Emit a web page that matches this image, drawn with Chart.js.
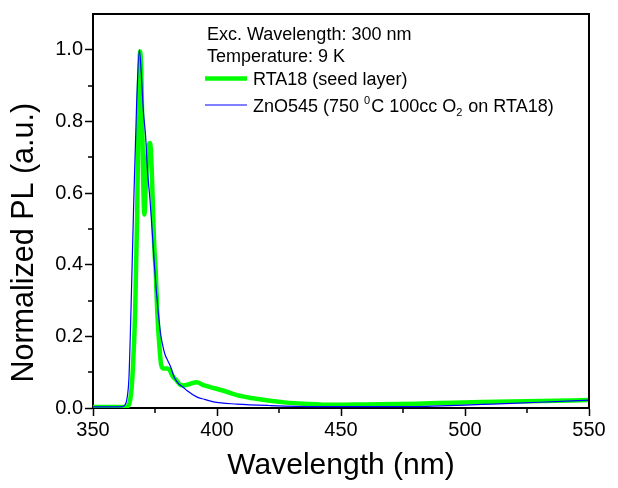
<!DOCTYPE html>
<html>
<head>
<meta charset="utf-8">
<script src="https://cdn.jsdelivr.net/npm/chart.js@4.4.1/dist/chart.umd.min.js"></script>
<style>
  html, body { margin: 0; padding: 0; background: #fff; }
  #wrap { width: 618px; height: 488px; }
</style>
</head>
<body>
<div id="wrap"><canvas id="plChart"></canvas></div>
<script>
/* ---------- data ---------- */
const noteLines = ['Exc. Wavelength: 300 nm', 'Temperature: 9 K'];

// RTA18 (seed layer)
const wlRta = [350, 363, 364.5, 365.5, 366, 367, 367.8, 368.3, 369, 369.6, 370.2, 370.7,
  371.3, 372, 373, 373.6, 374.2, 374.7, 375.3, 375.9, 376.7, 377.5, 378.5, 380, 381, 382,
  383.7, 385, 386.4, 389, 391.8, 394.5, 398, 401.2, 404.5, 408, 414.6, 421.4, 428, 435,
  447, 460, 481, 495, 507, 525, 550];
const plRta = [0.003, 0.003, 0.01, 0.05, 0.1, 0.27, 0.54, 0.8, 0.995, 0.9, 0.65, 0.54,
  0.62, 0.71, 0.74, 0.68, 0.55, 0.45, 0.38, 0.27, 0.18, 0.12, 0.11, 0.11, 0.105, 0.09,
  0.077, 0.066, 0.063, 0.067, 0.072, 0.064, 0.057, 0.051, 0.044, 0.036, 0.027, 0.02, 0.015, 0.012,
  0.009, 0.01, 0.012, 0.015, 0.017, 0.019, 0.022];

// ZnO545 (750 0C 100cc O2 on RTA18)
const wlZno = [350, 362, 363, 363.6, 364.5, 365.3, 366.3, 367.6, 368.7, 369.5, 370.3, 371.2,
  372, 373, 374, 374.7, 375.5, 376.3, 377.2, 378, 379, 380.3, 381.3, 382.8, 384.5, 386.4,
  388, 391.8, 395, 398.5, 408, 421, 440, 480, 490, 500, 511, 530, 550];
const plZno = [0.003, 0.004, 0.01, 0.022, 0.085, 0.27, 0.54, 0.85, 1.0, 0.93, 0.83, 0.76,
  0.66, 0.58, 0.48, 0.405, 0.33, 0.268, 0.21, 0.178, 0.15, 0.13, 0.115, 0.085, 0.068, 0.058,
  0.048, 0.031, 0.024, 0.017, 0.011, 0.007, 0.004, 0.004, 0.006, 0.008, 0.011, 0.016, 0.022];

// legend text pieces: 0 = normal, 1 = superscript, -1 = subscript
const legendRta = [['RTA18 (seed layer)', 0]];
const legendZno = [['ZnO545 (750 ', 0], ['0', 1], ['C 100cc O', 0], ['2', -1], [' on RTA18)', 0]];

const xMinorTicks = [375, 425, 475, 525];
const yMinorTicks = [0.1, 0.3, 0.5, 0.7, 0.9];

/* ---------- helpers ---------- */
const toPoints = (xs, ys) => xs.map((x, i) => ({ x: x, y: ys[i] }));
const isMajorY = v => Math.round(v * 10) % 2 === 0 && v < 1.05;
const isMajorX = v => Math.round(v) % 50 === 0;

Chart.defaults.font.family = "'Liberation Sans', Arial, sans-serif";
Chart.defaults.color = '#000';

/* ---------- frame, minor ticks and the in-plot legend ---------- */
const framePlugin = {
    id: 'framePlugin',
    afterDraw(chart) {
        const { ctx, chartArea: a, scales } = chart;
        ctx.save();
        ctx.strokeStyle = '#000';
        ctx.lineWidth = 2;
        ctx.beginPath();
        ctx.moveTo(a.left, a.top);
        ctx.lineTo(a.right, a.top);
        ctx.lineTo(a.right, a.bottom);
        ctx.stroke();

        ctx.lineWidth = 1.5;
        ctx.beginPath();
        xMinorTicks.forEach(v => {
            const px = Math.round(scales.x.getPixelForValue(v));
            ctx.moveTo(px, a.bottom);
            ctx.lineTo(px, a.bottom + 5);
        });
        yMinorTicks.forEach(v => {
            const py = Math.round(scales.y.getPixelForValue(v));
            ctx.moveTo(a.left - 5, py);
            ctx.lineTo(a.left, py);
        });
        ctx.stroke();

        // notes
        const x0 = a.left + 114;
        ctx.fillStyle = '#000';
        ctx.textBaseline = 'alphabetic';
        ctx.font = "18px 'Liberation Sans', Arial";
        noteLines.forEach((t, i) => ctx.fillText(t, x0, a.top + 26 + i * 22.3));

        // legend entries
        const entries = [legendRta, legendZno];
        chart.data.datasets.forEach((ds, i) => {
            const base = a.top + 71 + i * 26.5;
            const mid = base - 6.5;
            ctx.strokeStyle = ds.borderColor;
            ctx.lineWidth = ds.borderWidth;
            ctx.beginPath();
            ctx.moveTo(x0 - 2, mid);
            ctx.lineTo(x0 + 40, mid);
            ctx.stroke();
            let tx = x0 + 46;
            entries[i].forEach(([txt, kind]) => {
                ctx.font = kind === 0 ? "18px 'Liberation Sans', Arial" : "11px 'Liberation Sans', Arial";
                const dy = kind === 1 ? -8 : (kind === -1 ? 4 : 0);
                ctx.fillText(txt, tx, base + dy);
                tx += ctx.measureText(txt).width + (kind !== 0 ? 1 : 0);
            });
        });
        ctx.restore();
    }
};

new Chart(document.getElementById('plChart'), {
    type: 'line',
    data: {
        datasets: [
            {
                label: 'RTA18 (seed layer)',
                data: toPoints(wlRta, plRta),
                borderColor: '#00ff00',
                borderWidth: 4.5,
                pointRadius: 0,
                cubicInterpolationMode: 'monotone',
                order: 1
            },
            {
                label: 'ZnO545 (750 \u2070C 100cc O\u2082 on RTA18)',
                data: toPoints(wlZno, plZno),
                borderColor: '#0000ff',
                borderWidth: 1.2,
                pointRadius: 0,
                cubicInterpolationMode: 'monotone',
                order: 0
            }
        ]
    },
    options: {
        responsive: true,
        maintainAspectRatio: false,
        animation: false,
        layout: { padding: { top: 7, right: 29, bottom: 0, left: 0 } },
        plugins: {
            legend: { display: false },
            tooltip: { enabled: false }
        },
        scales: {
            x: {
                type: 'linear',
                min: 350,
                max: 550,
                afterFit: s => { s.height = 80; },
                border: { display: true, color: '#000', width: 2 },
                grid: {
                    drawOnChartArea: false,
                    drawTicks: true,
                    tickLength: 8,
                    tickWidth: 1.5,
                    tickColor: c => (c.tick && isMajorX(c.tick.value)) ? '#000' : 'rgba(0,0,0,0)'
                },
                ticks: {
                    stepSize: 25,
                    padding: 2,
                    maxRotation: 0,
                    font: { size: 20 },
                    callback: v => isMajorX(v) ? String(v) : ''
                },
                title: {
                    display: true,
                    text: 'Wavelength (nm)',
                    font: { size: 30 },
                    padding: { top: 4, bottom: 4 }
                }
            },
            y: {
                min: 0,
                max: 1.1,
                afterFit: s => { s.width = 93; },
                border: { display: true, color: '#000', width: 2 },
                grid: {
                    drawOnChartArea: false,
                    drawTicks: true,
                    tickLength: 8,
                    tickWidth: 1.5,
                    tickColor: c => (c.tick && isMajorY(c.tick.value)) ? '#000' : 'rgba(0,0,0,0)'
                },
                ticks: {
                    stepSize: 0.1,
                    padding: 2,
                    font: { size: 20 },
                    callback: v => isMajorY(v) ? v.toFixed(1) : ''
                },
                title: {
                    display: true,
                    text: '   Normalized PL (a.u.)',
                    align: 'start',
                    font: { size: 30.5 },
                    padding: { top: 6, bottom: 4 }
                }
            }
        }
    },
    plugins: [framePlugin]
});
</script>
</body>
</html>
